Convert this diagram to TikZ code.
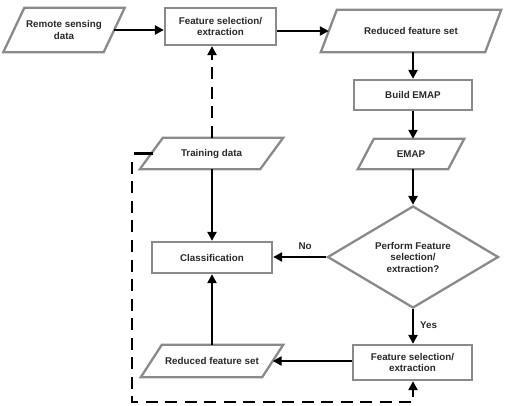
\documentclass[tikz,border=0pt]{standalone}
\usepackage{fontspec}
\setmainfont{Liberation Sans}
\usetikzlibrary{arrows.meta,calc,shapes.geometric}
\definecolor{boxgray}{HTML}{8A8A8A}
\definecolor{txt}{HTML}{2A2A2A}
\tikzset{
  lbl/.style={font=\bfseries\fontsize{9.8}{11.5}\selectfont, text=txt, align=center, inner sep=0pt},
  rectbox/.style={lbl, draw=boxgray, line width=2.3pt, fill=white},
  parabox/.style={lbl},
  paraedge/.style={draw=boxgray, line width=2.3pt, fill=white},
  flow/.style={draw=black, line width=2.3pt, -{Triangle[length=9pt,width=9pt]}},
  dashflow/.style={flow, dash pattern=on 12pt off 7.5pt},
  dashline/.style={draw=black, line width=2.3pt}
}
\tikzset{
  decision/.style={lbl, diamond, draw=boxgray, line width=2.3pt, fill=white, minimum width=171pt, minimum height=102pt, aspect=1.68}
}
\newcommand{\drawpara}[2]{%
  \path[paraedge] ($(#1.north west)+(#2,0)$) -- ($(#1.north east)+(#2,0)$) -- ($(#1.south east)+(-#2,0)$) -- ($(#1.south west)+(-#2,0)$) -- cycle;}
\begin{document}
\begin{tikzpicture}[x=1pt,y=-1pt]
\useasboundingbox (0,0) rectangle (506,406);
\node[parabox, minimum width=100pt, minimum height=44pt] (rsd) at (64,30) {};
\drawpara{rsd}{10.5}
\node[lbl] at (rsd) {Remote sensing\\data};

\node[rectbox, minimum width=111pt, minimum height=37pt] (fs1) at (220.5,26.5) {Feature selection/\\extraction};

\node[parabox, minimum width=164pt, minimum height=42pt] (rfs1) at (411,31) {};
\drawpara{rfs1}{8}
\node[lbl] at (rfs1) {Reduced feature set};

\node[rectbox, minimum width=118pt, minimum height=30pt] (build) at (413,95) {Build EMAP};

\node[parabox, minimum width=90pt, minimum height=30pt] (emap) at (411,154) {};
\drawpara{emap}{8}
\node[lbl] at (emap) {EMAP};

\node[decision] (dec) at (413,257) {Perform Feature\\selection/\\extraction?};

\node[rectbox, minimum width=119pt, minimum height=35pt] (fs2) at (412.5,362.5) {Feature selection/\\extraction};

\node[parabox, minimum width=121pt, minimum height=32pt] (rfs2) at (212,361) {};
\drawpara{rfs2}{10.5}
\node[lbl] at (rfs2) {Reduced feature set};

\node[rectbox, minimum width=120pt, minimum height=31pt] (cls) at (212,257.5) {Classification};

\node[parabox, minimum width=120pt, minimum height=31pt] (train) at (211.5,153.5) {};
\drawpara{train}{11.5}
\node[lbl] at (train) {Training data};

\coordinate (tl) at (134,153.5);
\coordinate (bl) at (132,402);
\coordinate (br) at (413,402);

\draw[flow] (rsd.east) -- (fs1.west |- rsd.east);
\draw[flow] (fs1.east |- rfs1.west) -- (rfs1.west);
\draw[flow] (rfs1.south -| build.north) -- (build.north);
\draw[flow] (build.south) -- (emap.north -| build.south);
\draw[flow] (emap.south -| dec.north) -- (dec.north);
\draw[flow] (dec.west) -- (cls.east |- dec.west) node[pos=0.4, above=6pt, lbl] {No};
\draw[flow] (dec.south) -- (fs2.north -| dec.south) node[pos=0.45, right=6pt, lbl] {Yes};
\draw[flow] (fs2.west |- rfs2.east) -- (rfs2.east);
\draw[flow] (rfs2.north) -- (cls.south -| rfs2.north);
\draw[flow] (train.south -| cls.north) -- (cls.north);
\draw[dashflow] (train.north -| cls.north) -- (fs1.south -| cls.north);
\draw[dashline] ($(train.west)+(2,0)$) -- (tl);
\draw[dashflow] ($(bl)+(0,-240)$) -- (bl) -- (br) -- (fs2.south -| br);
\end{tikzpicture}
\end{document}
